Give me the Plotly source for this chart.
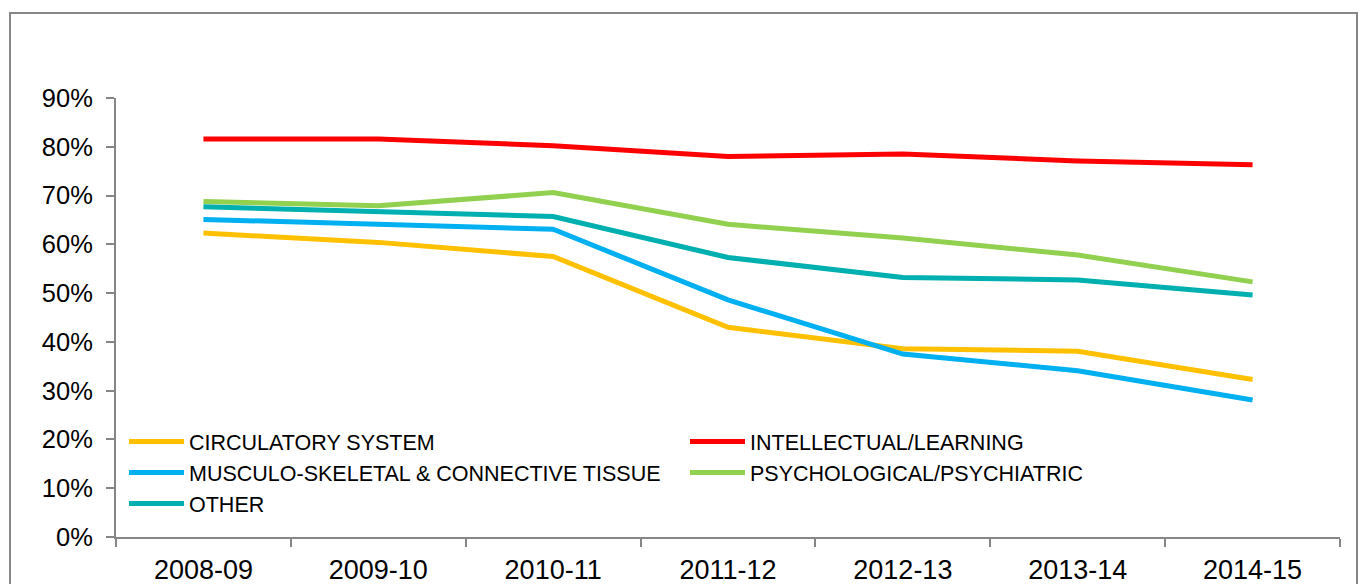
import plotly.graph_objects as go

years = ["2008-09", "2009-10", "2010-11", "2011-12", "2012-13", "2013-14", "2014-15"]

circulatory = [0.623, 0.604, 0.575, 0.430, 0.386, 0.381, 0.323]
intellectual = [0.816, 0.816, 0.802, 0.780, 0.785, 0.771, 0.763]
musculo = [0.651, 0.640, 0.631, 0.486, 0.375, 0.341, 0.281]
psych = [0.688, 0.679, 0.706, 0.641, 0.613, 0.578, 0.523]
other = [0.677, 0.667, 0.657, 0.573, 0.532, 0.527, 0.496]

series = [
    ("CIRCULATORY SYSTEM", circulatory, "#FFC000"),
    ("INTELLECTUAL/LEARNING", intellectual, "#FF0000"),
    ("MUSCULO-SKELETAL & CONNECTIVE TISSUE", musculo, "#00B0F0"),
    ("PSYCHOLOGICAL/PSYCHIATRIC", psych, "#92D050"),
    ("OTHER", other, "#00AFAF"),
]

fig = go.Figure()
for name, vals, col in series:
    fig.add_trace(go.Scatter(x=years, y=vals, name=name, mode="lines",
                             line=dict(color=col, width=5)))

W, H = 1360, 584
ml, mr, mt, mb = 116, 20, 98, 47
pw, ph = W - ml - mr, H - mt - mb

def px_x(x):
    return (x - ml) / pw

def px_y(y):
    return (H - mb - y) / ph

font = "Liberation Sans, Arial, sans-serif"
fig.update_layout(
    width=W, height=H,
    margin=dict(l=ml, r=mr, t=mt, b=mb, autoexpand=False),
    plot_bgcolor="white", paper_bgcolor="white",
    font=dict(family=font, color="black"),
    showlegend=True,
    legend=dict(
        orientation="h",
        x=px_x(124), y=px_y(421), xanchor="left", yanchor="top",
        entrywidth=491, entrywidthmode="pixels",
        itemwidth=55,
        font=dict(size=21.5, family=font, color="black"),
        bgcolor="rgba(0,0,0,0)",
        traceorder="normal",
    ),
    xaxis=dict(
        type="category", range=[-0.5, 6.5],
        showgrid=False, zeroline=False,
        showline=True, linecolor="#868686", linewidth=2,
        ticks="outside", ticklen=8, tickcolor="#868686", tickwidth=2,
        tickson="boundaries",
        tickfont=dict(size=27, family=font, color="black"),
        ticklabelstandoff=8,
    ),
    yaxis=dict(
        range=[0, 0.9], dtick=0.1, tickformat=".0%",
        showgrid=False, zeroline=False,
        showline=True, linecolor="#868686", linewidth=2,
        ticks="outside", ticklen=8, tickcolor="#868686", tickwidth=2,
        tickfont=dict(size=25.5, family=font, color="black"),
        ticklabelstandoff=8,
    ),
    shapes=[dict(type="rect", xref="paper", yref="paper",
                 x0=px_x(10), x1=px_x(1357), y0=px_y(620), y1=px_y(13),
                 line=dict(color="#868686", width=2), fillcolor="rgba(0,0,0,0)",
                 layer="below")],
)

fig.write_html("out.html",
               config={"displayModeBar": False},
               post_script="document.body.style.margin='0px';document.body.style.overflow='hidden';")
